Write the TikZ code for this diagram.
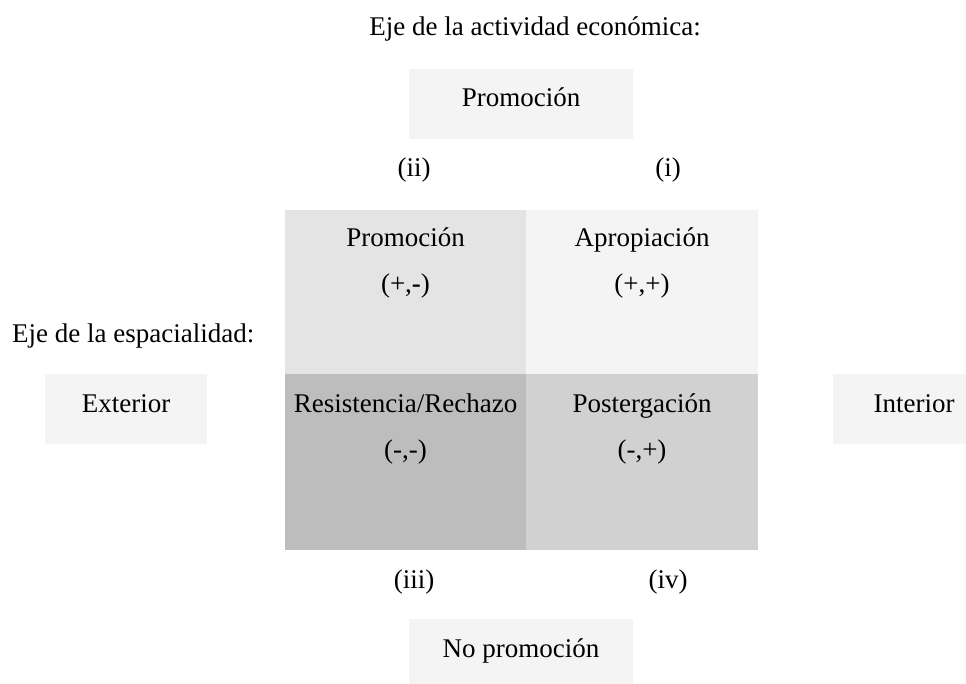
\documentclass[tikz,border=0pt]{standalone}
\usepackage{fontspec}
\setmainfont{Liberation Serif}
\definecolor{boxgray}{HTML}{F4F4F4}
\definecolor{cellTL}{HTML}{E4E4E4}
\definecolor{cellTR}{HTML}{F4F4F4}
\definecolor{cellBL}{HTML}{BDBDBD}
\definecolor{cellBR}{HTML}{D1D1D1}
\begin{document}
\begin{tikzpicture}[x=1pt,y=-1pt,
  every node/.style={font=\fontsize{27}{46}\selectfont, text=black, inner sep=0pt},
  box/.style={fill=boxgray, text height=38pt, text depth=32pt, anchor=base},
  cell/.style={align=center, anchor=base},
  lbl/.style={anchor=base}]
\useasboundingbox (0,0) rectangle (966,684);
% title texts
\node[lbl] (title) at (535,36) {Eje de la actividad económica:};
\node[lbl, anchor=base west] (espacial) at (12,342) {Eje de la espacialidad:};
% axis boxes
\node[box, minimum width=224pt] (promo) at (521,107) {Promoción};
\node[box, minimum width=224pt] (nopromo) at (521,657) {No promoción};
\node[box, minimum width=162pt] (exterior) at (126,412) {Exterior};
\node[box, minimum width=162pt] (interior) at (914,412) {Interior};
% quadrant cells (anchored at the baseline of their last line)
\node[cell, fill=cellTL, minimum width=241pt, text height=83pt, text depth=81pt] (tl) at (405.5,293) {Promoción\\(+,\textbf{-})};
\node[cell, fill=cellTR, minimum width=232pt, text height=83pt, text depth=81pt] (tr) at (642,293) {Apropiación\\(+,+)};
\node[cell, fill=cellBL, minimum width=241pt, text height=84pt, text depth=92pt] (bl) at (405.5,458) {Resistencia/Rechazo\\(-,-)};
\node[cell, fill=cellBR, minimum width=232pt, text height=84pt, text depth=92pt] (br) at (642,458) {Postergación\\(-,+)};
% quadrant labels
\node[lbl] (ii) at (414,177) {(ii)};
\node[lbl] (i) at (668,177) {(i)};
\node[lbl] (iii) at (414,588) {(iii)};
\node[lbl] (iv) at (668,588) {(iv)};
\end{tikzpicture}
\end{document}
